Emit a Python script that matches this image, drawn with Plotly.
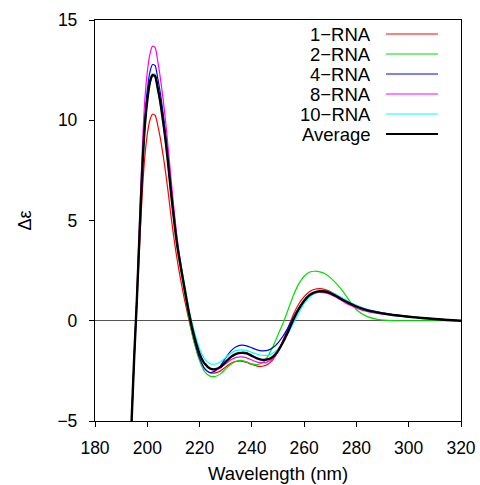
import plotly.graph_objects as go

wavelength = [190, 192, 194, 195, 196, 197, 198, 199, 200, 201, 202, 203, 204, 205, 206, 207, 208, 209, 210, 211, 212,
              214, 216, 218, 220, 222, 224, 226, 228, 230, 232, 234, 236, 238, 240, 242, 244, 246, 248, 250,
              252, 254, 256, 258, 260, 262, 264, 266, 268, 270, 272, 274, 276, 278, 280,
              284, 288, 292, 296, 300, 305, 310, 315, 320]

rna1 = [-17, -11, -5, -1.9, 0.8, 3.6, 6.2, 8.1, 9.3, 10.0, 10.3, 10.25, 9.75, 9.1, 8.3, 7.4, 6.4, 5.3, 4.3, 3.4, 2.6,
        1.2, 0.0, -1.1, -1.9, -2.4, -2.6, -2.6, -2.5, -2.3, -2.12, -2.03, -2.02, -2.08, -2.18, -2.26, -2.27, -2.18, -1.95, -1.55,
        -0.95, -0.3, 0.35, 0.85, 1.2, 1.45, 1.57, 1.6, 1.56, 1.46, 1.32, 1.16, 1.0, 0.86, 0.74,
        0.55, 0.43, 0.34, 0.27, 0.21, 0.15, 0.1, 0.05, 0.0]

rna2 = [-17, -11, -5, -1.8, 1.0, 4.2, 7.3, 9.5, 10.9, 11.8, 12.2, 12.15, 11.55, 10.8, 9.9, 8.9, 7.7, 6.4, 5.2, 4.1, 3.2,
        1.6, 0.1, -1.1, -2.0, -2.55, -2.76, -2.78, -2.65, -2.4, -2.17, -2.02, -1.98, -2.05, -2.15, -2.19, -2.1, -1.8, -1.3, -0.7,
        -0.1, 0.6, 1.3, 1.85, 2.22, 2.42, 2.47, 2.44, 2.34, 2.15, 1.9, 1.6, 1.25, 0.88, 0.55,
        0.22, 0.07, 0.02, 0.0, 0.0, 0.0, 0.0, 0.0, 0.0]

rna4 = [-17, -11, -5, -1.8, 1.1, 4.4, 7.6, 10.0, 11.5, 12.4, 12.78, 12.72, 12.1, 11.35, 10.4, 9.35, 8.1, 6.75, 5.5, 4.35, 3.4,
        1.8, 0.3, -0.95, -1.85, -2.4, -2.58, -2.5, -2.25, -1.85, -1.5, -1.3, -1.22, -1.25, -1.35, -1.45, -1.5, -1.48, -1.35, -1.1,
        -0.75, -0.3, 0.2, 0.65, 1.0, 1.25, 1.4, 1.46, 1.45, 1.38, 1.26, 1.12, 0.98, 0.85, 0.73,
        0.55, 0.43, 0.34, 0.27, 0.21, 0.15, 0.09, 0.04, 0.0]

rna8 = [-17, -11, -5, -1.7, 1.3, 4.9, 8.3, 10.9, 12.4, 13.3, 13.7, 13.62, 12.95, 12.1, 11.1, 9.95, 8.6, 7.2, 5.85, 4.6, 3.55,
        1.9, 0.4, -0.8, -1.65, -2.15, -2.4, -2.45, -2.35, -2.15, -1.95, -1.83, -1.8, -1.85, -1.96, -2.06, -2.1, -2.05, -1.88, -1.55,
        -1.05, -0.5, 0.05, 0.55, 0.95, 1.22, 1.36, 1.41, 1.39, 1.31, 1.18, 1.03, 0.88, 0.75, 0.63,
        0.46, 0.36, 0.29, 0.23, 0.18, 0.12, 0.08, 0.04, 0.0]

rna10 = [-17, -11, -5, -1.8, 1.0, 4.2, 7.3, 9.6, 11.05, 11.95, 12.33, 12.3, 11.7, 11.0, 10.1, 9.1, 7.9, 6.6, 5.4, 4.3, 3.4,
         1.95, 0.55, -0.55, -1.4, -1.92, -2.14, -2.16, -2.05, -1.83, -1.62, -1.48, -1.45, -1.48, -1.58, -1.67, -1.72, -1.72, -1.62, -1.4,
         -1.05, -0.6, -0.1, 0.4, 0.85, 1.17, 1.36, 1.45, 1.47, 1.42, 1.32, 1.18, 1.03, 0.89, 0.77,
         0.58, 0.45, 0.35, 0.28, 0.22, 0.15, 0.1, 0.05, 0.0]

average = [-17, -11, -5, -1.8, 1.0, 4.2, 7.3, 9.6, 11.0, 11.9, 12.25, 12.2, 11.6, 10.9, 10.0, 9.0, 7.8, 6.5, 5.3, 4.2, 3.3,
           1.8, 0.35, -0.8, -1.65, -2.15, -2.38, -2.42, -2.3, -2.05, -1.8, -1.65, -1.6, -1.62, -1.75, -1.88, -1.95, -1.93, -1.8, -1.5,
           -1.05, -0.5, 0.1, 0.6, 1.0, 1.28, 1.42, 1.47, 1.46, 1.38, 1.25, 1.1, 0.96, 0.83, 0.71,
           0.53, 0.42, 0.33, 0.26, 0.2, 0.14, 0.09, 0.04, 0.0]

series_names = ["1\u2212RNA", "2\u2212RNA", "4\u2212RNA", "8\u2212RNA", "10\u2212RNA", "Average"]
series_values = [rna1, rna2, rna4, rna8, rna10, average]
series_colors = ["#ff0000", "#00e000", "#0000ff", "#ff00ff", "#00ffff", "#000000"]
series_widths = [1.2, 1.2, 1.2, 1.2, 1.2, 2.4]

x_ticks = [180, 200, 220, 240, 260, 280, 300, 320]
y_ticks = [-5, 0, 5, 10, 15]

FONT = "Liberation Sans"

fig = go.Figure()
for name, vals, col, w in zip(series_names, series_values, series_colors, series_widths):
    fig.add_trace(go.Scatter(x=wavelength, y=vals, mode="lines", name=name,
                             line=dict(color=col, width=w, shape="spline", smoothing=0.6),
                             showlegend=False))

# manual legend (text right-aligned, line sample to the right)
legend_top = 1 - 14 / 401
row_h = 20 / 401
for i, (name, col, w) in enumerate(zip(series_names, series_colors, series_widths)):
    yy = legend_top - i * row_h
    fig.add_annotation(xref="paper", yref="paper", x=(373 - 95) / 366, y=yy, text=name,
                       showarrow=False, xanchor="right", yanchor="middle",
                       font=dict(family=FONT, size=18.5, color="black"))
    fig.add_shape(type="line", xref="paper", yref="paper",
                  x0=(386 - 95) / 366, x1=(438 - 95) / 366, y0=yy, y1=yy,
                  line=dict(color=col, width=1.2 if w < 2 else 2))

fig.add_annotation(xref="paper", yref="paper", x=0.5, y=0, yshift=-52, text="Wavelength (nm)",
                   showarrow=False, xanchor="center", yanchor="middle",
                   font=dict(family=FONT, size=18.5, color="black"))
fig.add_annotation(xref="paper", yref="paper", x=0, xshift=-71, y=0.5, yshift=0, text="\u0394\u03b5",
                   showarrow=False, xanchor="center", yanchor="middle", textangle=-90,
                   font=dict(family=FONT, size=18, color="black"))

fig.update_layout(
    width=480, height=485, autosize=False,
    margin=dict(l=95, r=19, t=20, b=64, pad=0, autoexpand=False),
    paper_bgcolor="white", plot_bgcolor="white",
    font=dict(family=FONT, size=17, color="black"),
)
fig.update_xaxes(range=[180, 320], tickvals=x_ticks, ticks="outside", ticklen=5, tickcolor="black",
                 showline=True, linecolor="black", linewidth=1.3, mirror=True, showgrid=False,
                 automargin=False,
                 zeroline=False, ticklabelstandoff=6, tickfont=dict(family=FONT, size=17.5))
fig.update_yaxes(range=[-5, 15], tickvals=y_ticks, ticks="outside", ticklen=5, tickcolor="black",
                 showline=True, linecolor="black", linewidth=1.3, mirror=True, showgrid=False,
                 automargin=False,
                 zeroline=True, zerolinecolor="#555555", zerolinewidth=1, ticklabelstandoff=8,
                 tickfont=dict(family=FONT, size=17.5))

fig.write_html("out.html", config={"responsive": False})
